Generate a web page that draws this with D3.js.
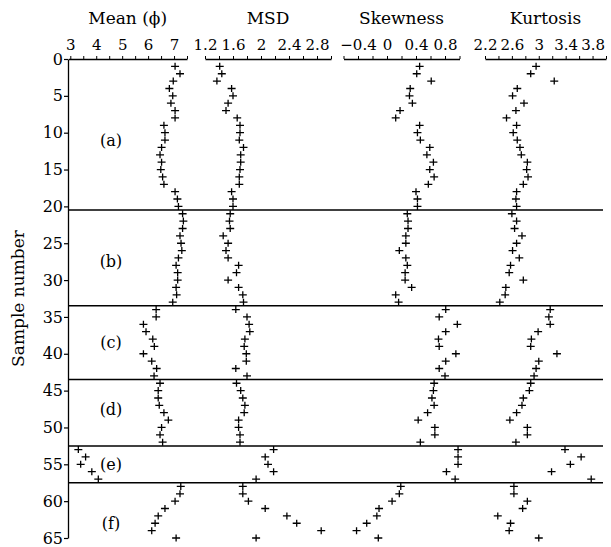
<!DOCTYPE html>
<html>
<head>
<meta charset="utf-8">
<script src="https://cdn.jsdelivr.net/npm/d3@7/dist/d3.min.js"></script>
<style>
  body { margin: 0; background: #fff; }
  svg text { font-family: "DejaVu Serif", "Liberation Serif", serif; fill: #000; }
</style>
</head>
<body>
<svg id="chart" width="611" height="547"></svg>
<script>
// values, sample 1..65
let samples = d3.range(1, 66);
let meanPhi = [7.04, 7.23, 6.97, 6.82, 6.95, 6.88, 7.04, 7.04, 6.61, 6.65,
  6.65, 6.52, 6.46, 6.52, 6.49, 6.56, 6.61, 7.04, 7.13, 7.17,
  7.33, 7.36, 7.33, 7.23, 7.27, 7.30, 7.17, 7.08, 7.14, 7.14,
  7.08, 7.10, 6.95, 6.31, 6.31, 5.82, 5.92, 6.18, 6.24, 5.82,
  6.14, 6.33, 6.23, 6.46, 6.39, 6.39, 6.43, 6.61, 6.78, 6.52,
  6.46, 6.56, 3.31, 3.59, 3.40, 3.83, 4.08, 7.26, 7.23, 7.04,
  6.65, 6.39, 6.27, 6.14, 7.08];
let msd = [1.41, 1.44, 1.37, 1.58, 1.60, 1.53, 1.50, 1.66, 1.70, 1.70,
  1.69, 1.75, 1.71, 1.71, 1.70, 1.69, 1.69, 1.58, 1.60, 1.60,
  1.56, 1.55, 1.56, 1.46, 1.53, 1.50, 1.53, 1.68, 1.65, 1.53,
  1.68, 1.74, 1.75, 1.64, 1.80, 1.83, 1.84, 1.77, 1.76, 1.79,
  1.79, 1.64, 1.80, 1.65, 1.71, 1.74, 1.77, 1.76, 1.68, 1.68,
  1.70, 1.70, 2.18, 2.06, 2.10, 2.18, 1.93, 1.74, 1.74, 1.82,
  2.06, 2.37, 2.51, 2.86, 1.93];
let skewness = [0.45, 0.41, 0.61, 0.32, 0.31, 0.35, 0.18, 0.12, 0.45, 0.42,
  0.46, 0.59, 0.55, 0.64, 0.59, 0.65, 0.57, 0.40, 0.42, 0.42,
  0.28, 0.29, 0.29, 0.26, 0.26, 0.17, 0.26, 0.28, 0.25, 0.25,
  0.34, 0.12, 0.16, 0.81, 0.72, 0.97, 0.81, 0.71, 0.72, 0.95,
  0.81, 0.72, 0.80, 0.65, 0.64, 0.62, 0.65, 0.56, 0.43, 0.66,
  0.66, 0.46, 0.98, 0.98, 0.98, 0.82, 0.94, 0.19, 0.17, 0.07,
  -0.11, -0.14, -0.28, -0.42, -0.12];
let kurtosis = [2.96, 2.88, 3.23, 2.68, 2.61, 2.78, 2.66, 2.52, 2.67, 2.62,
  2.68, 2.72, 2.74, 2.83, 2.82, 2.84, 2.77, 2.67, 2.66, 2.67,
  2.60, 2.67, 2.64, 2.75, 2.67, 2.61, 2.71, 2.58, 2.56, 2.77,
  2.51, 2.50, 2.42, 3.17, 3.15, 3.17, 2.99, 2.89, 2.88, 3.27,
  3.00, 2.96, 2.93, 2.88, 2.86, 2.77, 2.75, 2.67, 2.57, 2.83,
  2.83, 2.66, 3.39, 3.63, 3.47, 3.19, 3.78, 2.63, 2.63, 2.83,
  2.76, 2.39, 2.58, 2.56, 3.00];

// zone boundaries and labels
let boundaries = [20.5, 33.5, 43.5, 52.5, 57.5];
let zoneLabels = ["(a)", "(b)", "(c)", "(d)", "(e)", "(f)"];
let zoneLabelAt = [11, 27.5, 38.5, 47.5, 55, 63];
let yTicks = d3.range(0, 70, 5);

let panels = [
  { title: "Mean (\u03d5)", values: meanPhi, domain: [2.923, 7.5], range: [68.3, 187],
    ticks: d3.range(3, 7.51, 0.5), labels: [3, 4, 5, 6, 7] },
  { title: "MSD", values: msd, domain: [1.2, 3.0], range: [205, 331],
    ticks: d3.range(1.2, 3.01, 0.2), labels: [1.2, 1.6, 2, 2.4, 2.8] },
  { title: "Skewness", values: skewness, domain: [-0.6, 1.0], range: [343.5, 459.5],
    ticks: d3.range(-0.6, 1.01, 0.2), labels: [-0.4, 0, 0.4, 0.8] },
  { title: "Kurtosis", values: kurtosis, domain: [2.2, 4.0], range: [485, 606],
    ticks: d3.range(2.2, 4.01, 0.2), labels: [2.2, 2.6, 3, 3.4, 3.8] }
];

let svg = d3.select("#chart");
let plotTop = 59, plotBottom = 538, plotLeft = 68, plotRight = 603;

let yScale = d3.scaleLinear().domain([0, 65]).range([plotTop, plotBottom]);

// y axis
let yAxis = d3.axisLeft(yScale).tickValues(yTicks).tickSize(4).tickPadding(1).tickSizeOuter(0);
let gy = svg.append("g").attr("transform", "translate(" + plotLeft + ",0)").call(yAxis);
gy.select(".domain").attr("stroke", "#000").attr("stroke-width", 1.3);
gy.selectAll(".tick line").attr("stroke-width", 1.2);
gy.selectAll("text").style("font-size", "16px").attr("font-family", null);

svg.append("text")
  .attr("transform", "translate(24," + ((plotTop + plotBottom) / 2) + ") rotate(-90)")
  .attr("text-anchor", "middle")
  .style("font-size", "17px")
  .text("Sample number");

// zone separators
svg.selectAll(".sep").data(boundaries).enter().append("line")
  .attr("class", "sep")
  .attr("x1", plotLeft).attr("x2", plotRight)
  .attr("y1", d => yScale(d)).attr("y2", d => yScale(d))
  .attr("stroke", "#000").attr("stroke-width", 1.5);

svg.selectAll(".zone").data(zoneLabels).enter().append("text")
  .attr("class", "zone")
  .attr("x", 111)
  .attr("y", (d, i) => yScale(zoneLabelAt[i]))
  .attr("dy", "0.35em")
  .attr("text-anchor", "middle")
  .style("font-size", "16px")
  .text(d => d);

let fmt = d3.format("");
panels.forEach(function (p) {
  let x = d3.scaleLinear().domain(p.domain).range(p.range);
  let axis = d3.axisTop(x).tickValues(p.ticks).tickSize(3).tickPadding(6).tickSizeOuter(0)
    .tickFormat(function (d) {
      let hit = p.labels.find(l => Math.abs(l - d) < 1e-6);
      if (hit === undefined) return "";
      return hit < 0 ? "\u2212" + fmt(-hit) : fmt(hit);
    });
  let g = svg.append("g").attr("transform", "translate(0," + plotTop + ")").call(axis);
  g.select(".domain").attr("stroke", "#000").attr("stroke-width", 1.3);
  g.selectAll(".tick line").attr("stroke-width", 1);
  g.selectAll("text").style("font-size", "15px").attr("font-family", null);

  svg.append("text")
    .attr("x", (p.range[0] + p.range[1]) / 2)
    .attr("y", 24)
    .attr("text-anchor", "middle")
    .style("font-size", "17px")
    .text(p.title);

  svg.append("g").selectAll("path").data(p.values).enter().append("path")
    .attr("transform", (d, i) => "translate(" + x(d) + "," + yScale(samples[i]) + ")")
    .attr("d", "M-4,0H4M0,-3.5V3.5")
    .attr("stroke", "#000")
    .attr("stroke-width", 1.3)
    .attr("fill", "none");
});
</script>
</body>
</html>
